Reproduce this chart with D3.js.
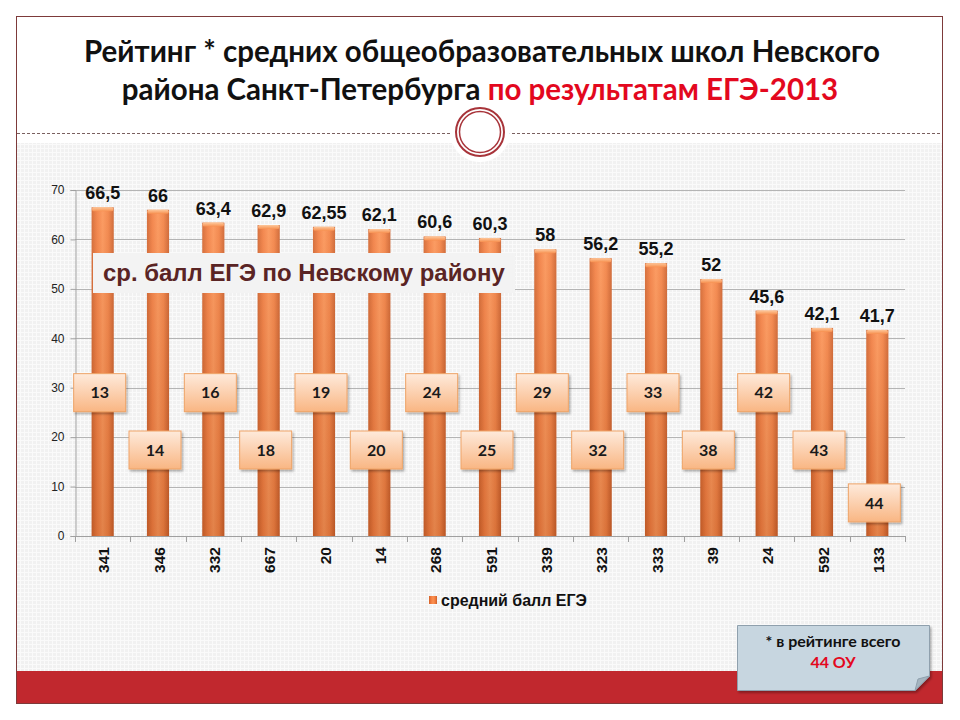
<!DOCTYPE html>
<html><head><meta charset="utf-8">
<script src="https://cdn.jsdelivr.net/npm/d3@7"></script>
<style>body{margin:0;background:#fff}</style></head>
<body><svg id="c" width="960" height="720"></svg>
<script>
// ---- data ----
const schools = ["341","346","332","667","20","14","268","591","339","323","333","39","24","592","133"];
const scores = [66.5,66,63.4,62.9,62.55,62.1,60.6,60.3,58,56.2,55.2,52,45.6,42.1,41.7];
const scoreLabels = ["66,5","66","63,4","62,9","62,55","62,1","60,6","60,3","58","56,2","55,2","52","45,6","42,1","41,7"];
const ranks = [13,14,16,18,19,20,24,25,29,32,33,38,42,43,44];
const yTicks = [0,10,20,30,40,50,60,70];
const districtAvg = 59.5;
const titleLine1 = "Рейтинг * средних общеобразовательных школ Невского";
const titleLine2a = "района Санкт-Петербурга ";
const titleLine2b = "по результатам ЕГЭ-2013";
const avgLabel = "ср. балл ЕГЭ по Невскому району";
const legendLabel = "средний балл ЕГЭ";
const noteLine1 = "* в рейтинге всего";
const noteLine2 = "44 ОУ";

const svg = d3.select("#c");
const defs = svg.append("defs");

// patterns & gradients
const pat = defs.append("pattern").attr("id","grid").attr("width",4).attr("height",4).attr("patternUnits","userSpaceOnUse");
pat.append("rect").attr("width",4).attr("height",4).attr("fill","#f1f1f1");
pat.append("path").attr("d","M0 0.5H4M0.5 0V4").attr("stroke","#fafafa").attr("stroke-width",1);

const gb = defs.append("linearGradient").attr("id","barH").attr("x1","0").attr("x2","1").attr("y1","0").attr("y2","0");
[["0%","#d2622a"],["25%","#f27c3e"],["50%","#fb9152"],["75%","#f27f40"],["100%","#cc5e28"]].forEach(s=>gb.append("stop").attr("offset",s[0]).attr("stop-color",s[1]));
const gv = defs.append("linearGradient").attr("id","barV").attr("x1","0").attr("x2","0").attr("y1","0").attr("y2","1");
gv.append("stop").attr("offset","0%").attr("stop-color","#fff").attr("stop-opacity",0.1);
gv.append("stop").attr("offset","100%").attr("stop-color","#000").attr("stop-opacity",0.1);
const gc = defs.append("linearGradient").attr("id","cap").attr("x1","0").attr("x2","0").attr("y1","0").attr("y2","1");
gc.append("stop").attr("offset","0%").attr("stop-color","#fdc79a");
gc.append("stop").attr("offset","100%").attr("stop-color","#f79050");
const gr = defs.append("linearGradient").attr("id","rankG").attr("x1","0").attr("x2","0").attr("y1","0").attr("y2","1");
gr.append("stop").attr("offset","0%").attr("stop-color","#feeadb");
gr.append("stop").attr("offset","100%").attr("stop-color","#f9b683");
const sh = defs.append("filter").attr("id","shadow").attr("x","-20%").attr("y","-20%").attr("width","150%").attr("height","160%");
sh.append("feDropShadow").attr("dx",1.5).attr("dy",2).attr("stdDeviation",1.2).attr("flood-color","#000").attr("flood-opacity",0.3);
const sh2 = defs.append("filter").attr("id","lineShadow").attr("x","-5%").attr("y","-200%").attr("width","110%").attr("height","500%");
sh2.append("feDropShadow").attr("dx",0).attr("dy",2).attr("stdDeviation",1.5).attr("flood-color","#000").attr("flood-opacity",0.3);

// frame
svg.append("rect").attr("x",17).attr("y",143).attr("width",925).attr("height",528).attr("fill","url(#grid)");
svg.append("rect").attr("x",16.5).attr("y",671).attr("width",926).attr("height",32).attr("fill","#c1282e");
svg.append("rect").attr("x",16.5).attr("y",16.5).attr("width",926).attr("height",687).attr("fill","none").attr("stroke","#7d3a3a").attr("stroke-width",1);
svg.append("line").attr("x1",17).attr("x2",942).attr("y1",133.5).attr("y2",133.5).attr("stroke","#7a6060").attr("stroke-width",1).attr("stroke-dasharray","3,2");
svg.append("circle").attr("cx",480).attr("cy",132).attr("r",30).attr("fill","#fff");
svg.append("circle").attr("cx",480).attr("cy",132).attr("r",24).attr("fill","#fff").attr("stroke","#a8343a").attr("stroke-width",2);
svg.append("circle").attr("cx",480).attr("cy",132).attr("r",20.5).attr("fill","none").attr("stroke","#a8343a").attr("stroke-width",1.5);

// title
const tFont = "Lato, 'Open Sans', sans-serif";
const t1 = svg.append("text").attr("x",482).attr("y",62).attr("text-anchor","middle")
  .attr("font-family",tFont).attr("font-weight","bold").attr("font-size",26).attr("fill","#111").text(titleLine1);
const w1 = t1.node().getComputedTextLength();
const fs = 26*796/w1;
t1.attr("font-size",fs);
const t2 = svg.append("text").attr("x",480).attr("y",100).attr("text-anchor","middle")
  .attr("font-family",tFont).attr("font-weight","bold").attr("font-size",fs);
t2.append("tspan").attr("fill","#111").text(titleLine2a);
t2.append("tspan").attr("fill","#e3081e").text(titleLine2b);

// scales
const x = d3.scaleBand().domain(schools).range([75,905]).paddingInner(0.6).paddingOuter(0.3);
const y = d3.scaleLinear().domain([0,70]).range([536,190]);

// gridlines
svg.append("g").selectAll("line").data(yTicks.filter(d=>d>0)).join("line")
  .attr("x1",75).attr("x2",905).attr("y1",d=>Math.round(y(d))+0.5).attr("y2",d=>Math.round(y(d))+0.5)
  .attr("stroke","#b4b4b4").attr("stroke-width",1);

// y axis
const ya = svg.append("g").attr("transform","translate(75.5,0)")
  .call(d3.axisLeft(y).tickValues(yTicks).tickSize(5).tickPadding(6));
ya.select(".domain").attr("stroke","#a0a0a0");
ya.selectAll(".tick line").attr("stroke","#a0a0a0");
ya.selectAll("text").attr("font-family","Arial, 'Liberation Sans', sans-serif").attr("font-size",12).attr("fill","#222");

// x axis line and boundary ticks
svg.append("line").attr("x1",75).attr("x2",905).attr("y1",536.5).attr("y2",536.5).attr("stroke","#a0a0a0");
const step = x.step();
svg.append("g").selectAll("line").data(d3.range(schools.length+1)).join("line")
  .attr("x1",i=>Math.round(75+i*step)+0.5).attr("x2",i=>Math.round(75+i*step)+0.5)
  .attr("y1",536).attr("y2",542).attr("stroke","#a0a0a0");

// bars
const bw = x.bandwidth();
const bars = svg.append("g").selectAll("g").data(schools).join("g");
bars.append("rect").attr("x",d=>x(d)).attr("width",bw)
  .attr("y",(d,i)=>y(scores[i])).attr("height",(d,i)=>y(0)-y(scores[i])).attr("fill","url(#barH)");
bars.append("rect").attr("x",d=>x(d)).attr("width",bw)
  .attr("y",(d,i)=>y(scores[i])).attr("height",(d,i)=>y(0)-y(scores[i])).attr("fill","url(#barV)");
bars.append("rect").attr("x",d=>x(d)+0.5).attr("width",bw-1)
  .attr("y",(d,i)=>y(scores[i])).attr("height",4).attr("rx",1.5).attr("fill","url(#cap)");

// x labels
svg.append("g").selectAll("text").data(schools).join("text")
  .attr("transform",d=>`translate(${x(d)+bw/2+1},547) rotate(-90)`)
  .attr("text-anchor","end").attr("dy","0.36em")
  .attr("font-family","Arial, 'Liberation Sans', sans-serif").attr("font-weight","bold").attr("font-size",15.5).attr("fill","#111")
  .text(d=>d);

// value labels
svg.append("g").selectAll("text").data(schools).join("text")
  .attr("x",d=>x(d)+bw/2).attr("y",(d,i)=>y(scores[i])-8).attr("text-anchor","middle")
  .attr("font-family","Arial, 'Liberation Sans', sans-serif").attr("font-weight","bold").attr("font-size",18).attr("fill","#111")
  .text((d,i)=>scoreLabels[i]);

// average line (drawn over labels as in the source)
svg.append("line").attr("x1",80).attr("x2",900).attr("y1",y(districtAvg)).attr("y2",y(districtAvg))
  .attr("stroke","#b2343a").attr("stroke-width",4).attr("filter","url(#lineShadow)");

// avg label box
svg.append("rect").attr("x",93).attr("y",253).attr("width",422).attr("height",40).attr("fill","#f3f3f3");
const al = svg.append("text").attr("x",103).attr("y",281)
  .attr("font-family","Arial, 'Liberation Sans', sans-serif").attr("font-weight","bold").attr("font-size",22).attr("fill","#5a2424").text(avgLabel);
const alw = al.node().getComputedTextLength();
al.attr("font-size",22*402/alw);

// rank boxes
const rankLevel = i => i===schools.length-1 ? 6.7 : (i%2===0 ? 29 : 17.4);
const rb = svg.append("g").selectAll("g").data(schools).join("g")
  .attr("transform",(d,i)=>`translate(${x(d)+bw/2-3},${y(rankLevel(i))})`);
rb.append("rect").attr("x",-26).attr("y",-19).attr("width",52).attr("height",38)
  .attr("fill","url(#rankG)").attr("stroke","#efa468").attr("stroke-width",1).attr("filter","url(#shadow)");
rb.append("text").attr("text-anchor","middle").attr("dy","0.36em")
  .attr("font-family",tFont).attr("font-weight","bold").attr("font-size",16).attr("fill","#1a1a1a")
  .text((d,i)=>ranks[i]);

// legend
svg.append("rect").attr("x",429).attr("y",596).attr("width",8).attr("height",8).attr("fill","url(#barH)");
const lg = svg.append("text").attr("x",441).attr("y",606)
  .attr("font-family","Arial, 'Liberation Sans', sans-serif").attr("font-weight","bold").attr("font-size",15).attr("fill","#111").text(legendLabel);
lg.attr("font-size",15*146/lg.node().getComputedTextLength());

// note box
const nb = svg.append("g").attr("filter","url(#shadow)");
nb.append("path").attr("d","M737.5 625.5H929.5V676L915 690.5H737.5Z").attr("fill","#c7d6e0").attr("stroke","#8fa0ad");
nb.append("path").attr("d","M929.5 676L918 679L915 690.5Z").attr("fill","#a5b5c0").attr("stroke","#8fa0ad");
svg.append("text").attr("x",833).attr("y",647).attr("text-anchor","middle")
  .attr("font-family",tFont).attr("font-weight","bold").attr("font-size",16).attr("fill","#111").text(noteLine1);
svg.append("text").attr("x",833).attr("y",668).attr("text-anchor","middle")
  .attr("font-family",tFont).attr("font-weight","bold").attr("font-size",16).attr("fill","#e3081e").text(noteLine2);
</script></body></html>
